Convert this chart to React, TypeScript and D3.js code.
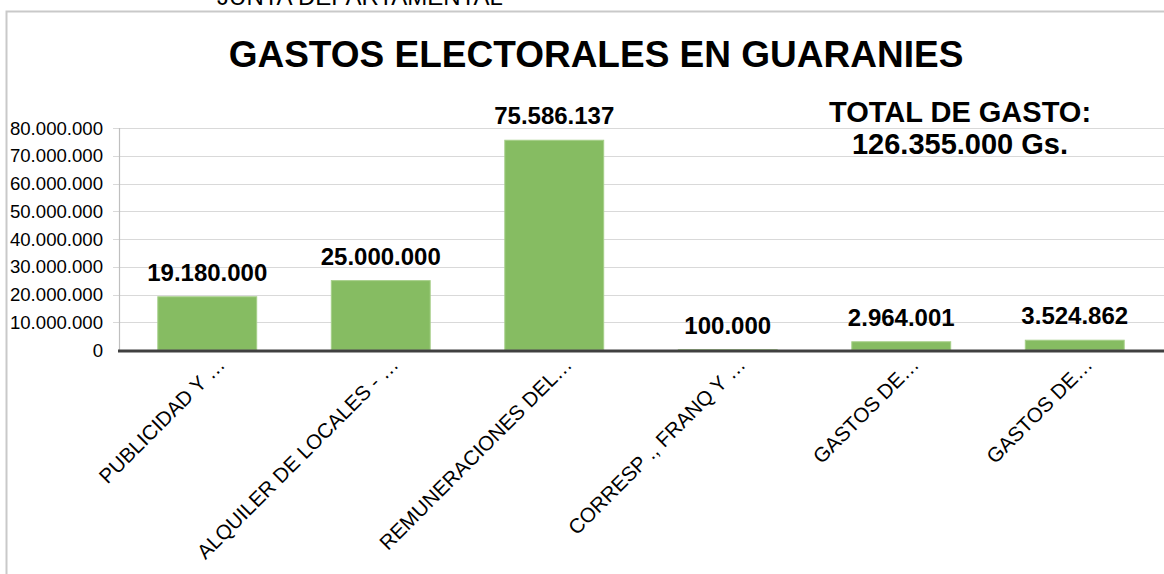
import React from "react";
import * as d3 from "d3";

const categories = [
  "PUBLICIDAD Y …",
  "ALQUILER DE LOCALES - …",
  "REMUNERACIONES DEL…",
  "CORRESP ., FRANQ Y …",
  "GASTOS DE…",
  "GASTOS DE…",
];
const values = [19180000, 25000000, 75586137, 100000, 2964001, 3524862];
const valueLabels = ["19.180.000", "25.000.000", "75.586.137", "100.000", "2.964.001", "3.524.862"];
const yTicks = [0, 10000000, 20000000, 30000000, 40000000, 50000000, 60000000, 70000000, 80000000];
const title = "GASTOS ELECTORALES EN GUARANIES";
const topText = "JUNTA DEPARTAMENTAL";
const totalLines = ["TOTAL DE GASTO:", "126.355.000 Gs."];

const W = 1164;
const H = 574;
const FONT = "Arial, 'Liberation Sans', sans-serif";

const fmt = (v: number) => (v === 0 ? "0" : d3.format(",")(v).replace(/,/g, "."));

export default function App() {
  if (typeof document !== "undefined") document.body.style.margin = "0";
  const y = d3.scaleLinear().domain([0, 80000000]).range([350, 128]);
  const x = d3
    .scaleBand<number>()
    .domain(categories.map((_, i) => i))
    .range([120.5, 1161.5])
    .paddingInner(0.43)
    .paddingOuter(0.215);

  return (
    <svg width={W} height={H} style={{ display: "block", background: "#fff" }} fontFamily={FONT}>
      <rect x={0} y={0} width={W} height={H} fill="#fff" />
      <text x={360} y={5} textAnchor="middle" fontSize={24} fill="#000">
        {topText}
      </text>
      {/* chart frame */}
      <path d={`M6.5,${H} V11.5 H${W}`} fill="none" stroke="#c9c9c9" strokeWidth={2} />

      <text x={596} y={67} textAnchor="middle" fontSize={37} fontWeight="bold" fill="#000">
        {title}
      </text>

      {/* gridlines */}
      {yTicks.map((t) => (
        <g key={t}>
          {t !== 0 && (
            <line x1={113} x2={W} y1={Math.round(y(t)) + 0.5} y2={Math.round(y(t)) + 0.5} stroke="#d9d9d9" strokeWidth={1.2} />
          )}
          <text x={103} y={y(t) + 6.5} textAnchor="end" fontSize={18.6} fill="#000">
            {fmt(t)}
          </text>
        </g>
      ))}
      <line x1={119.5} x2={119.5} y1={y(80000000)} y2={350} stroke="#bfbfbf" strokeWidth={1.2} />

      {/* bars */}
      {values.map((v, i) => (
        <rect
          key={i}
          x={x(i)}
          y={y(v)}
          width={x.bandwidth()}
          height={350 - y(v)}
          fill="#86bc62"
          stroke="#a6cf89"
          strokeWidth={1}
        />
      ))}

      {/* x axis */}
      <line x1={118} x2={W} y1={351} y2={351} stroke="#404040" strokeWidth={3} />

      {/* value labels */}
      {values.map((v, i) => (
        <text
          key={i}
          x={(x(i) as number) + x.bandwidth() / 2}
          y={y(v) - 16}
          textAnchor="middle"
          fontSize={24}
          fontWeight="bold"
          fill="#000"
        >
          {valueLabels[i]}
        </text>
      ))}

      {/* category labels */}
      {categories.map((c, i) => {
        const cx = (x(i) as number) + x.bandwidth() / 2 + 19;
        const cy = 366;
        return (
          <text
            key={i}
            transform={`translate(${cx},${cy}) rotate(-45)`}
            textAnchor="end"
            fontSize={20.5}
            fill="#000"
          >
            {c}
          </text>
        );
      })}

      {totalLines.map((t, i) => (
        <text key={i} x={960} y={122 + i * 32} textAnchor="middle" fontSize={29} fontWeight="bold" fill="#000">
          {t}
        </text>
      ))}
    </svg>
  );
}
